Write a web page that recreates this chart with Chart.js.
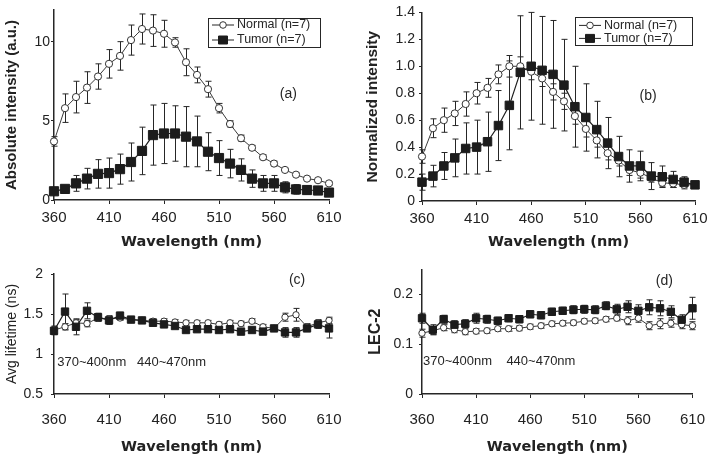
<!DOCTYPE html>
<html>
<head>
<meta charset="utf-8">
<script src="https://cdn.jsdelivr.net/npm/chart.js@4.4.1/dist/chart.umd.min.js"></script>
<style>
  html, body { margin: 0; padding: 0; background: #fff; }
  #wrap { position: relative; width: 718px; height: 462px; overflow: hidden; }
  #wrap canvas { position: absolute; }
</style>
</head>
<body>
<div id="wrap">
  <canvas id="chartA" width="360" height="255" style="left:0;top:0"></canvas>
  <canvas id="chartB" width="358" height="255" style="left:360px;top:0"></canvas>
  <canvas id="chartC" width="360" height="207" style="left:0;top:255px"></canvas>
  <canvas id="chartD" width="358" height="207" style="left:360px;top:255px"></canvas>
</div>
<script>
// wavelengths (nm)
const wavelengths = [360, 370, 380, 390, 400, 410, 420, 430, 440, 450, 460, 470, 480,
  490, 500, 510, 520, 530, 540, 550, 560, 570, 580, 590, 600, 610];
const xTicks = [360, 410, 460, 510, 560, 610];
const seriesNames = ['Normal (n=7)', 'Tumor (n=7)'];

// (a) absolute intensity
const absNormal = [3.7, 5.8, 6.5, 7.1, 7.8, 8.6, 9.1, 10.1, 10.8, 10.7, 10.5, 9.95, 8.7,
  7.9, 7.0, 5.8, 4.8, 3.9, 3.3, 2.7, 2.3, 1.9, 1.6, 1.35, 1.25, 1.05];
const absNormalErr = [0.3, 0.9, 1.0, 1.0, 0.8, 0.9, 0.9, 0.95, 0.95, 1.0, 0.85, 0.3, 0.85,
  0.5, 0.5, 0.3, 0.2, 0.2, 0.15, 0.15, 0.15, 0.1, 0.1, 0.1, 0.1, 0.1];
const absTumor = [0.55, 0.7, 1.05, 1.35, 1.65, 1.7, 1.95, 2.4, 3.1, 4.1, 4.2, 4.2, 4.0,
  3.7, 3.05, 2.65, 2.3, 1.9, 1.35, 1.05, 1.05, 0.8, 0.67, 0.63, 0.6, 0.47];
const absTumorErr = [0.1, 0.15, 0.5, 0.65, 0.9, 0.95, 0.95, 1.2, 1.5, 1.9, 1.9, 1.75, 1.9,
  1.6, 1.2, 1.1, 0.9, 0.7, 0.55, 0.5, 0.5, 0.35, 0.3, 0.25, 0.2, 0.15];
const absTicks = [0, 5, 10];

// (b) normalized intensity
const normNormal = [0.33, 0.54, 0.6, 0.65, 0.72, 0.8, 0.84, 0.94, 1.0, 1.0, 0.96, 0.91, 0.81,
  0.74, 0.63, 0.535, 0.45, 0.355, 0.3, 0.23, 0.21, 0.17, 0.135, 0.13, 0.12, 0.12];
const normNormalErr = [0.05, 0.07, 0.09, 0.09, 0.09, 0.08, 0.07, 0.07, 0.08, 0.07, 0.06, 0.06, 0.06,
  0.06, 0.06, 0.06, 0.05, 0.05, 0.04, 0.04, 0.04, 0.03, 0.03, 0.03, 0.03, 0.02];
const normTumor = [0.14, 0.185, 0.26, 0.32, 0.39, 0.4, 0.44, 0.56, 0.71, 0.955, 1.0, 0.97, 0.94,
  0.86, 0.7, 0.62, 0.53, 0.43, 0.33, 0.26, 0.26, 0.185, 0.18, 0.16, 0.14, 0.12];
const normTumorErr = [0.06, 0.08, 0.1, 0.14, 0.19, 0.2, 0.22, 0.26, 0.33, 0.42, 0.4, 0.4, 0.4,
  0.34, 0.3, 0.25, 0.21, 0.19, 0.15, 0.12, 0.11, 0.1, 0.08, 0.06, 0.04, 0.02];
const normTicks = [0, 0.2, 0.4, 0.6, 0.8, 1.0, 1.2, 1.4];

// (c) average lifetime (ns)
const lifeNormal = [1.3, 1.34, 1.39, 1.38, 1.45, 1.44, 1.45, 1.43, 1.42, 1.41, 1.41, 1.4, 1.39,
  1.39, 1.39, 1.37, 1.39, 1.38, 1.41, 1.34, 1.32, 1.46, 1.49, 1.34, 1.39, 1.42];
const lifeNormalErr = [0.05, 0.04, 0.04, 0.04, 0.04, 0.04, 0.03, 0.03, 0.03, 0.03, 0.03, 0.03, 0.03,
  0.03, 0.03, 0.03, 0.03, 0.03, 0.03, 0.03, 0.03, 0.05, 0.08, 0.04, 0.04, 0.04];
const lifeTumor = [1.29, 1.53, 1.34, 1.54, 1.46, 1.42, 1.48, 1.43, 1.42, 1.39, 1.37, 1.35, 1.3,
  1.31, 1.31, 1.3, 1.31, 1.28, 1.3, 1.28, 1.32, 1.27, 1.27, 1.32, 1.37, 1.32];
const lifeTumorErr = [0.05, 0.22, 0.1, 0.1, 0.05, 0.05, 0.04, 0.03, 0.03, 0.03, 0.03, 0.03, 0.03,
  0.03, 0.03, 0.03, 0.03, 0.03, 0.03, 0.03, 0.03, 0.06, 0.06, 0.03, 0.05, 0.12];
const lifeTicks = [0.5, 1, 1.5, 2];

// (d) LEC-2
const lecNormal = [0.122, 0.127, 0.133, 0.129, 0.125, 0.126, 0.127, 0.131, 0.131, 0.132, 0.135, 0.137, 0.141,
  0.142, 0.143, 0.146, 0.147, 0.15, 0.152, 0.147, 0.152, 0.137, 0.141, 0.142, 0.139, 0.137];
const lecNormalErr = [0.008, 0.008, 0.006, 0.006, 0.006, 0.005, 0.005, 0.005, 0.005, 0.005, 0.005, 0.005, 0.005,
  0.005, 0.005, 0.005, 0.005, 0.005, 0.005, 0.008, 0.008, 0.008, 0.01, 0.008, 0.008, 0.008];
const lecTumor = [0.152, 0.129, 0.15, 0.139, 0.141, 0.152, 0.15, 0.147, 0.152, 0.15, 0.16, 0.158, 0.165,
  0.167, 0.169, 0.17, 0.169, 0.177, 0.17, 0.175, 0.167, 0.174, 0.172, 0.165, 0.149, 0.172];
const lecTumorErr = [0.01, 0.01, 0.008, 0.008, 0.008, 0.01, 0.008, 0.007, 0.007, 0.007, 0.007, 0.007, 0.007,
  0.007, 0.008, 0.008, 0.008, 0.008, 0.01, 0.012, 0.012, 0.015, 0.015, 0.012, 0.01, 0.022];
const lecTicks = [0, 0.1, 0.2];

const rangeNotes = ['370~400nm', '440~470nm'];

Chart.defaults.font.family = '"Liberation Sans", Arial, sans-serif';
Chart.defaults.color = '#222';

const ink = '#262626';

// error bars drawn through the chart's own scales
const errorBars = {
  id: 'errorBars',
  beforeDatasetsDraw(chart) {
    const { ctx, scales: { x, y } } = chart;
    ctx.save();
    ctx.strokeStyle = ink;
    ctx.lineWidth = 1;
    chart.data.datasets.forEach(ds => {
      if (!ds.errors) return;
      ds.data.forEach((pt, j) => {
        const px = Math.round(x.getPixelForValue(pt.x)) + 0.5;
        const top = y.getPixelForValue(pt.y + ds.errors[j]);
        const bot = y.getPixelForValue(pt.y - ds.errors[j]);
        ctx.beginPath();
        ctx.moveTo(px, top); ctx.lineTo(px, bot);
        ctx.moveTo(px - 3, top); ctx.lineTo(px + 3, top);
        ctx.moveTo(px - 3, bot); ctx.lineTo(px + 3, bot);
        ctx.stroke();
      });
    });
    ctx.restore();
  }
};

// boxed legend with line + marker, and free text notes
const panelText = {
  id: 'panelText',
  afterDraw(chart, args, opts) {
    const { ctx, chartArea, scales: { x, y } } = chart;
    ctx.save();
    (opts.notes || []).forEach(n => {
      ctx.font = (n.size || 13) + 'px "Liberation Sans", Arial, sans-serif';
      ctx.fillStyle = ink;
      ctx.textAlign = n.align || 'center';
      ctx.textBaseline = 'middle';
      ctx.fillText(n.text, x.getPixelForValue(n.x), y.getPixelForValue(n.y));
    });
    if (opts.legend) {
      const L = opts.legend;
      const left = chartArea.right - L.right - L.w;
      const top = chartArea.top + L.top;
      ctx.strokeStyle = ink;
      ctx.lineWidth = 1;
      ctx.strokeRect(Math.round(left) + 0.5, Math.round(top) + 0.5, L.w, L.h);
      ctx.font = '12.5px "Liberation Sans", Arial, sans-serif';
      ctx.textAlign = 'left';
      ctx.textBaseline = 'middle';
      chart.data.datasets.forEach((ds, i) => {
        const rowY = top + L.rows[i];
        const mx = left + 15;
        ctx.beginPath();
        ctx.moveTo(left + 4, rowY); ctx.lineTo(left + 26, rowY);
        ctx.stroke();
        ctx.fillStyle = ds.pointBackgroundColor;
        ctx.strokeStyle = ds.pointBorderColor;
        ctx.beginPath();
        if (ds.pointStyle === 'rect') {
          ctx.rect(mx - 4.5, rowY - 4, 9, 8);
        } else {
          ctx.arc(mx, rowY, 3.3, 0, Math.PI * 2);
        }
        ctx.fill(); ctx.stroke();
        ctx.strokeStyle = ink;
        ctx.fillStyle = ink;
        ctx.fillText(ds.label, left + 29, rowY);
      });
    }
    ctx.restore();
  }
};

function pts(values) {
  return wavelengths.map((w, i) => ({ x: w, y: values[i] }));
}

function datasets(normal, normalErr, tumor, tumorErr, sq, circ) {
  return [
    {
      label: seriesNames[0], data: pts(normal), errors: normalErr, order: 1,
      borderColor: '#3a3a3a', borderWidth: 1, pointStyle: 'circle', pointRadius: circ,
      pointBackgroundColor: '#fff', pointBorderColor: '#333', pointBorderWidth: 1, clip: false
    },
    {
      label: seriesNames[1], data: pts(tumor), errors: tumorErr, order: 0,
      borderColor: '#1e1e1e', borderWidth: 1.2, pointStyle: 'rect', pointRadius: sq,
      pointBackgroundColor: '#1c1c1c', pointBorderColor: '#1c1c1c', pointBorderWidth: 1, clip: false
    }
  ];
}

function makePanel(id, p) {
  return new Chart(document.getElementById(id), {
    type: 'line',
    data: { datasets: p.datasets },
    plugins: [errorBars, panelText],
    options: {
      responsive: false,
      animation: false,
      layout: { padding: p.padding },
      elements: { line: { tension: 0 } },
      plugins: {
        legend: { display: false },
        tooltip: { enabled: false },
        panelText: { notes: p.notes, legend: p.legend }
      },
      scales: {
        x: {
          type: 'linear', min: 360, max: 610,
          afterBuildTicks: s => { s.ticks = xTicks.map(v => ({ value: v })); },
          afterFit: s => { s.height = p.xHeight; },
          ticks: { font: { size: 15 }, color: '#222', padding: p.xPad, maxRotation: 0 },
          grid: { drawOnChartArea: false, tickLength: 4, color: ink },
          border: { color: ink, width: 1.5 },
          title: {
            display: true, text: 'Wavelength (nm)', color: '#222',
            font: { family: '"DejaVu Sans", sans-serif', weight: 'bold', size: 14.5 },
            padding: { top: 0, bottom: p.xTitleBottom }
          }
        },
        y: {
          min: p.yMin, max: p.yMax,
          afterBuildTicks: s => { s.ticks = p.yTicks.map(v => ({ value: v })); },
          afterFit: s => { s.width = p.yWidth; },
          ticks: { font: { size: 14 }, color: '#222', padding: p.yPad, callback: p.yFormat },
          grid: { drawOnChartArea: false, tickLength: 3, color: ink },
          border: { color: ink, width: 1.5 },
          title: {
            display: true, text: p.yTitle, color: '#222',
            font: p.yTitleFont,
            padding: { top: p.yTitleTop, bottom: 0 }
          }
        }
      }
    }
  });
}

makePanel('chartA', {
  datasets: datasets(absNormal, absNormalErr, absTumor, absTumorErr, 6.5, 3.6),
  padding: { left: 0, right: 31, top: 10, bottom: 0 },
  xHeight: 55, xPad: 5, xTitleBottom: 4,
  yMin: 0, yMax: 12, yTicks: absTicks, yWidth: 54, yPad: 1,
  yTitle: 'Absolute intensity (a.u.)',
  yTitleFont: { weight: 'bold', size: 15 }, yTitleTop: 3,
  notes: [{ text: '(a)', x: 573, y: 6.7, size: 14 }],
  legend: { w: 112, h: 29, right: 9, top: 8, rows: [7, 22] }
});

makePanel('chartB', {
  datasets: datasets(normNormal, normNormalErr, normTumor, normTumorErr, 6, 3.6),
  padding: { left: 0, right: 23, top: 10, bottom: 0 },
  xHeight: 54, xPad: 5, xTitleBottom: 4,
  yMin: 0, yMax: 1.4, yTicks: normTicks, yWidth: 62, yPad: 4,
  yFormat: v => (v === 0 ? '0' : v.toFixed(1)),
  yTitle: 'Normalized intensity',
  yTitleFont: { weight: 'bold', size: 15.5 }, yTitleTop: 3,
  notes: [{ text: '(b)', x: 567, y: 0.78, size: 14 }],
  legend: { w: 117, h: 28, right: 3, top: 5, rows: [8, 21] }
});

makePanel('chartC', {
  datasets: datasets(lifeNormal, lifeNormalErr, lifeTumor, lifeTumorErr, 5.2, 3.2),
  padding: { left: 0, right: 31, top: 19, bottom: 0 },
  xHeight: 68, xPad: 13, xTitleBottom: 6,
  yMin: 0.5, yMax: 2, yTicks: lifeTicks, yWidth: 54, yPad: 8,
  yTitle: 'Avg lifetime (ns)',
  yTitleFont: { size: 14 }, yTitleTop: 4,
  notes: [
    { text: '(c)', x: 581, y: 1.92, size: 14 },
    { text: rangeNotes[0], x: 363, y: 0.9, align: 'left' },
    { text: rangeNotes[1], x: 435.5, y: 0.9, align: 'left' }
  ]
});

makePanel('chartD', {
  datasets: datasets(lecNormal, lecNormalErr, lecTumor, lecTumorErr, 5.2, 3.2),
  padding: { left: 0, right: 23, top: 13, bottom: 0 },
  xHeight: 68, xPad: 13, xTitleBottom: 6,
  yMin: 0, yMax: 0.25, yTicks: lecTicks, yWidth: 62, yPad: 6,
  yFormat: v => (v === 0 ? '0' : v.toFixed(1)),
  yTitle: 'LEC-2',
  yTitleFont: { weight: 'bold', size: 16 }, yTitleTop: 6,
  notes: [
    { text: '(d)', x: 584, y: 0.226, size: 14 },
    { text: rangeNotes[0], x: 361, y: 0.065, align: 'left' },
    { text: rangeNotes[1], x: 438, y: 0.065, align: 'left' }
  ]
});
</script>
</body>
</html>
